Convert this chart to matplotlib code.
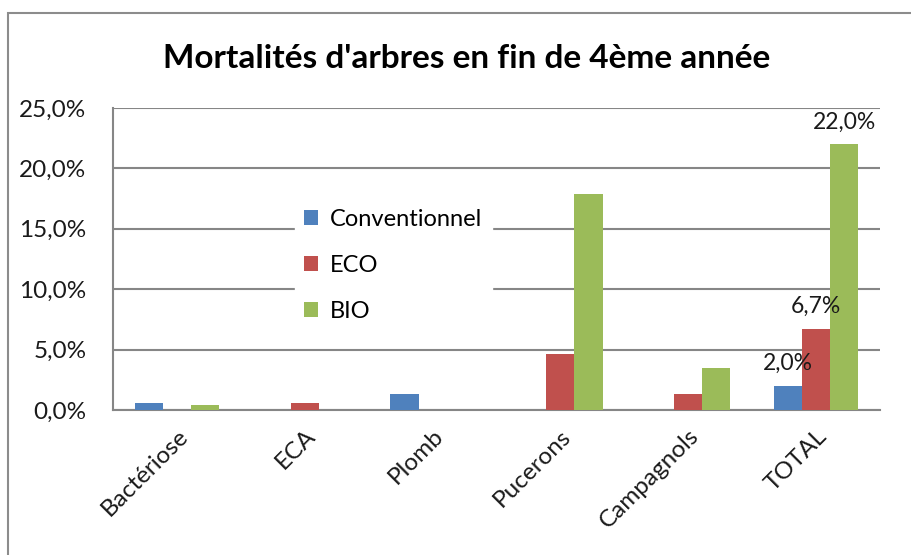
import matplotlib
matplotlib.use("Agg")
import matplotlib.pyplot as plt
from matplotlib.ticker import FuncFormatter, MultipleLocator
from matplotlib.patches import Rectangle
import numpy as np

categories = ["Bactériose", "ECA", "Plomb", "Pucerons", "Campagnols", "TOTAL"]
conventionnel = [0.006, 0.0, 0.013, 0.0, 0.0, 0.020]
eco = [0.0, 0.006, 0.0, 0.046, 0.013, 0.067]
bio = [0.004, 0.0, 0.0, 0.179, 0.035, 0.220]
series_names = ["Conventionnel", "ECO", "BIO"]
colors = ["#4F81BD", "#C0504D", "#9BBB59"]
title = "Mortalités d'arbres en fin de 4ème année"

plt.rcParams['font.family'] = ['Lato', 'DejaVu Sans']

fig = plt.figure(figsize=(9.12, 5.55), dpi=100)
fig.patch.set_facecolor("white")
# outer chart frame
fig.patches.append(Rectangle((8/912, -0.2), 1.2, 0.2 + (555-13)/555, transform=fig.transFigure,
                             fill=False, edgecolor="#8c8c8c", linewidth=1.5))

ax = fig.add_axes([113/912, (555-410)/555, (880-113)/912, (410-108)/555])
x = np.arange(len(categories))
w = 0.22
data = [conventionnel, eco, bio]
for i, (vals, name, c) in enumerate(zip(data, series_names, colors)):
    ax.bar(x + (i - 1) * w, vals, w, color=c, label=name, zorder=3)

# data labels for TOTAL
for i, vals in enumerate(data):
    v = vals[-1]
    ax.annotate(f"{v*100:.1f}%".replace(".", ","), (x[-1] + (i - 1) * w, v),
                xytext=(0, 16), textcoords="offset points", ha="center", va="center",
                fontsize=16.5, color="#1a1a1a", zorder=5)

ax.set_xlim(-0.5, len(categories) - 0.5)
ax.set_ylim(0, 0.25)
ax.yaxis.set_major_locator(MultipleLocator(0.05))
ax.yaxis.set_major_formatter(FuncFormatter(lambda v, p: f"{v*100:.1f}%".replace(".", ",")))
ax.grid(axis="y", color="#868686", linewidth=1.5, zorder=0)
ax.set_axisbelow(True)
for s in ["top", "right"]:
    ax.spines[s].set_visible(False)
for s in ["left", "bottom"]:
    ax.spines[s].set_color("#868686")
    ax.spines[s].set_linewidth(1.5)
ax.tick_params(axis="both", length=0, labelsize=17.5, colors="#1a1a1a")
ax.tick_params(axis="y", pad=19)
ax.tick_params(axis="x", pad=11)
ax.set_xticks(x)
ax.set_xticklabels(categories, rotation=45, ha="right", va="top", rotation_mode="anchor")

leg = ax.legend(loc="upper left", bbox_to_anchor=(170/767, 1 - 80/302), frameon=True,
                fancybox=False, edgecolor="white", framealpha=1, fontsize=17,
                handlelength=0.6, handleheight=0.6, handletextpad=0.5,
                labelspacing=1.05, borderpad=0.4)
leg.set_zorder(4)

fig.text(467/912, 1 - 58/555, title, ha="center", va="center", fontsize=24,
         fontweight="bold", color="black")

fig.savefig("out.png", dpi=100, facecolor="white")
